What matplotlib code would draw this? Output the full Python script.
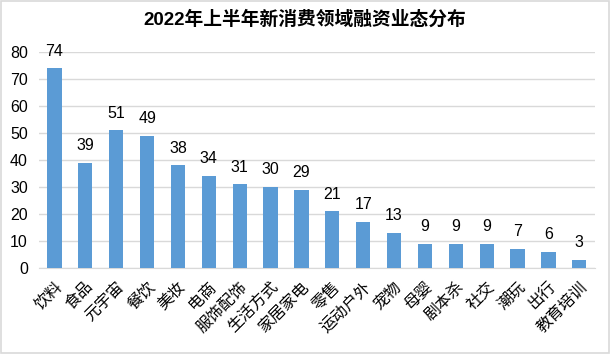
import matplotlib
matplotlib.use("Agg")
import matplotlib.pyplot as plt
from matplotlib.patches import Rectangle

plt.rcParams['font.family'] = ['Liberation Sans', 'Noto Sans CJK SC', 'DejaVu Sans']

categories = ["饮料", "食品", "元宇宙", "餐饮", "美妆", "电商", "服饰配饰", "生活方式", "家居家电",
              "零售", "运动户外", "宠物", "母婴", "剧本杀", "社交", "潮玩", "出行", "教育培训"]
values = [74, 39, 51, 49, 38, 34, 31, 30, 29, 21, 17, 13, 9, 9, 9, 7, 6, 3]
yticks = [0, 10, 20, 30, 40, 50, 60, 70, 80]
title = "2022年上半年新消费领域融资业态分布"

fig = plt.figure(figsize=(6.1, 3.54), dpi=100)
ax = fig.add_axes([0.064, 0.243, 0.911, 0.61])

x = list(range(len(categories)))
ax.bar(x, values, width=0.46, color="#5B9BD5", zorder=3)
for xi, v in zip(x, values):
    ax.annotate(str(v), (xi, v), xytext=(0, 7), textcoords="offset points",
                ha="center", va="bottom", fontsize=11.5, color="#000000")

ax.set_xlim(-0.5, len(categories) - 0.5)
ax.set_ylim(0, 80)
ax.set_yticks(yticks)
ax.set_yticklabels([str(t) for t in yticks], fontsize=11.5)
ax.set_xticks(x)
ax.set_xticklabels(categories, rotation=45, ha="right", rotation_mode="anchor", fontsize=11.5)
ax.tick_params(axis="both", length=0)
ax.tick_params(axis="y", pad=8)
ax.tick_params(axis="x", pad=8)
ax.grid(axis="y", color="#D9D9D9", linewidth=1, zorder=0)
for s in ["top", "right", "left"]:
    ax.spines[s].set_visible(False)
ax.spines["bottom"].set_color("#D9D9D9")

fig.text(0.5, 0.944, title, ha="center", va="center", fontsize=13.5, fontweight="bold")
fig.patches.append(Rectangle((0.001, 0.002), 0.997, 0.995, transform=fig.transFigure,
                             fill=False, edgecolor="#D9D9D9", linewidth=1.2))
fig.savefig("out.png", dpi=100)
